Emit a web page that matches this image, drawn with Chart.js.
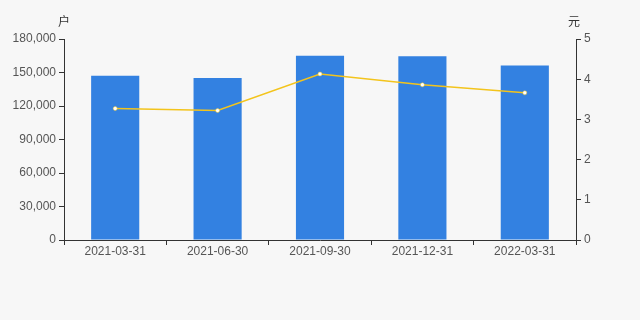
<!DOCTYPE html>
<html>
<head>
<meta charset="utf-8">
<script src="https://cdn.jsdelivr.net/npm/chart.js@4.4.0/dist/chart.umd.min.js"></script>
<style>
  html, body { margin: 0; padding: 0; background: #f7f7f7; }
  #wrap { width: 640px; height: 320px; position: relative; }
</style>
</head>
<body>
<div id="wrap"><canvas id="chart" width="640" height="320"></canvas></div>
<script>
// data
var dates = ["2021-03-31", "2021-06-30", "2021-09-30", "2021-12-31", "2022-03-31"];
var holders = [147000, 145000, 165000, 164500, 156200];
var avgValue = [3.27, 3.22, 4.13, 3.86, 3.66];
var leftTicks = [0, 30000, 60000, 90000, 120000, 150000, 180000];
var rightTicks = [0, 1, 2, 3, 4, 5];

var axisColor = "#333";
var labelColor = "#555";

// unit labels above each y axis
var unitPlugin = {
    id: "units",
    afterDraw: function(chart) {
        var c = chart.ctx;
        var area = chart.chartArea;
        c.save();
        c.fillStyle = "#333";
        c.font = "12px 'Noto Sans CJK SC', sans-serif";
        c.textBaseline = "middle";
        c.textAlign = "center";
        c.fillText("户", area.left, 21);
        c.fillText("元", area.right - 2, 21);
        c.restore();
    }
};

document.addEventListener('DOMContentLoaded', function() {
    var ctx = document.getElementById("chart").getContext("2d");
    var chart = new Chart(ctx, {
        type: "bar",
        data: {
            labels: dates,
            datasets: [{
                type: "line",
                data: avgValue,
                yAxisID: "y2",
                borderColor: "#f3c41c",
                borderWidth: 1.5,
                pointRadius: 2,
                pointBackgroundColor: "#ffffff",
                pointBorderColor: "#f3c41c",
                pointBorderWidth: 0.5,
                tension: 0,
                order: 0
            }, {
                data: holders,
                yAxisID: "y",
                backgroundColor: "#3381e1",
                categoryPercentage: 1,
                barPercentage: 0.47,
                order: 1
            }]
        },
        options: {
            responsive: false,
            animation: false,
            layout: { padding: { top: 39, bottom: 0, left: 0, right: 0 } },
            plugins: { legend: { display: false }, tooltip: { enabled: false } },
            scales: {
                x: {
                    offset: true,
                    grid: { display: true, drawOnChartArea: false, drawTicks: true, tickLength: 5, color: axisColor, offset: true },
                    border: { display: true, color: axisColor },
                    ticks: { color: labelColor, font: { size: 12, family: "Liberation Sans, Arial, sans-serif" }, padding: -1, maxRotation: 0 },
                    afterFit: function(s) { s.height = 80; }
                },
                y: {
                    position: "left",
                    min: 0, max: 180000,
                    afterBuildTicks: function(s) { s.ticks = leftTicks.map(function(v) { return { value: v }; }); },
                    grid: { display: true, drawOnChartArea: false, drawTicks: true, tickLength: 5, color: axisColor },
                    border: { display: true, color: axisColor },
                    ticks: {
                        color: labelColor, font: { size: 12, family: "Liberation Sans, Arial, sans-serif" }, padding: 3,
                        callback: function(v) { return v.toLocaleString("en-US"); }
                    },
                    afterFit: function(s) { s.width = 64; }
                },
                y2: {
                    position: "right",
                    min: 0, max: 5,
                    afterBuildTicks: function(s) { s.ticks = rightTicks.map(function(v) { return { value: v }; }); },
                    grid: { display: true, drawOnChartArea: false, drawTicks: true, tickLength: 5, color: axisColor },
                    border: { display: true, color: axisColor },
                    ticks: { color: labelColor, font: { size: 12, family: "Liberation Sans, Arial, sans-serif" }, padding: 3 },
                    afterFit: function(s) { s.width = 64; }
                }
            }
        },
        plugins: [unitPlugin]
    });
});
</script>
</body>
</html>
